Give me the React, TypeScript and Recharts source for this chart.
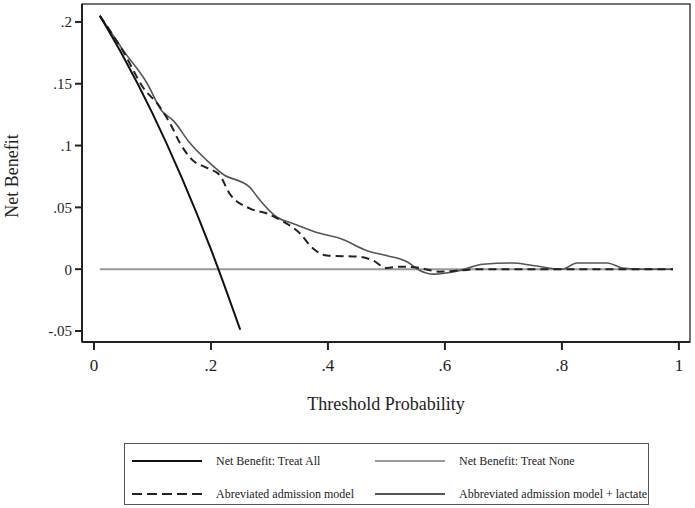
import React from 'react';
import { LineChart, XAxis, YAxis, Line, ReferenceArea } from 'recharts';

// threshold probabilities (x) and net benefit values (y)
const treatAllT = [0.01, 0.05, 0.1, 0.15, 0.2, 0.25];
const treatAllNB = [0.205, 0.172, 0.126, 0.074, 0.016, -0.049];

const treatNoneT = [0.01, 0.99];
const treatNoneNB = [0, 0];

const abbrevT = [0.01, 0.05, 0.084, 0.113, 0.13, 0.147, 0.169, 0.193, 0.215, 0.232, 0.267, 0.296, 0.318, 0.352, 0.374, 0.398, 0.455, 0.477, 0.5, 0.523, 0.557, 0.59, 0.626, 0.66, 0.75, 0.85, 0.99];
const abbrevNB = [0.205, 0.176, 0.147, 0.131, 0.118, 0.102, 0.088, 0.082, 0.076, 0.061, 0.049, 0.045, 0.04, 0.029, 0.017, 0.011, 0.01, 0.007, 0.001, 0.002, 0.001, -0.002, -0.001, 0, 0, 0, 0];

const lactateT = [0.01, 0.05, 0.09, 0.116, 0.136, 0.164, 0.193, 0.22, 0.267, 0.28, 0.313, 0.34, 0.386, 0.42, 0.467, 0.5, 0.535, 0.557, 0.58, 0.626, 0.665, 0.716, 0.75, 0.8, 0.826, 0.877, 0.904, 0.94, 0.99];
const lactateNB = [0.205, 0.177, 0.151, 0.128, 0.12, 0.102, 0.088, 0.077, 0.066, 0.058, 0.042, 0.037, 0.029, 0.025, 0.015, 0.011, 0.006, -0.001, -0.004, -0.001, 0.004, 0.005, 0.003, 0, 0.005, 0.005, 0.001, 0, 0];

const xTicks = [0, 0.2, 0.4, 0.6, 0.8, 1];
const yTicks = [-0.05, 0, 0.05, 0.1, 0.15, 0.2];

const toRows = (t: number[], nb: number[]) => t.map((x, i) => ({ t: x, nb: nb[i] }));

const fmt = (v: number) => {
  if (v === 0) return '0';
  if (v === 1) return '1';
  return String(v).replace('0.', '.');
};

const FONT = '"Liberation Serif", "Times New Roman", serif';
const X_MIN = -0.0205, X_MAX = 1.019, Y_MIN = -0.0589, Y_MAX = 0.2145;

const legendItems = [
  { name: 'Net Benefit: Treat All', color: '#111', dash: undefined, width: 2 },
  { name: 'Net Benefit: Treat None', color: '#999', dash: undefined, width: 2 },
  { name: 'Abreviated admission model', color: '#222', dash: '10 5', width: 2 },
  { name: 'Abbreviated admission model + lactate', color: '#555', dash: undefined, width: 2 },
];

const LegendBox = () => (
  <div style={{ position: 'absolute', left: 124, top: 443, width: 523, height: 60, border: '1px solid #555', fontFamily: FONT, fontSize: 12, color: '#222' }}>
    {legendItems.map((it, i) => {
      const col = i % 2, row = Math.floor(i / 2);
      return (
        <div key={it.name} style={{ position: 'absolute', left: col === 0 ? 7 : 250, top: row === 0 ? 8 : 41, display: 'flex', alignItems: 'center', height: 18, whiteSpace: 'nowrap' }}>
          <svg width={70} height={6} style={{ marginRight: 14 }}>
            <line x1={0} y1={3} x2={70} y2={3} stroke={it.color} strokeWidth={it.width} strokeDasharray={it.dash} />
          </svg>
          <span>{it.name}</span>
        </div>
      );
    })}
  </div>
);

export default function App() {
  return (
    <div style={{ position: 'absolute', left: 0, top: 0, width: 695, height: 508, background: '#fff' }}>
      <LineChart width={695} height={508} margin={{ top: 4, right: 5, left: 22, bottom: 66 }}>
        <ReferenceArea x1={X_MIN} x2={X_MAX} y1={Y_MIN} y2={Y_MAX} fill="none" stroke="#444" strokeWidth={1.5} ifOverflow="visible" />
        <XAxis
          type="number"
          dataKey="t"
          domain={[X_MIN, X_MAX]}
          allowDataOverflow
          ticks={xTicks}
          tickFormatter={fmt}
          height={100}
          tickSize={8}
          tickMargin={9}
          stroke="#222"
          strokeWidth={2}
          tick={{ fill: '#222', fontFamily: FONT, fontSize: 17 }}
          label={{ content: () => <text x={386} y={410} textAnchor="middle" fill="#222" fontFamily={FONT} fontSize={18}>Threshold Probability</text> }}
        />
        <YAxis
          type="number"
          domain={[Y_MIN, Y_MAX]}
          allowDataOverflow
          ticks={yTicks}
          tickFormatter={fmt}
          width={60}
          tickSize={7}
          tickMargin={3}
          stroke="#222"
          strokeWidth={2}
          tick={{ fill: '#222', fontFamily: FONT, fontSize: 15 }}
          label={{ content: () => <text x={18} y={176} textAnchor="middle" fill="#222" fontFamily={FONT} fontSize={18} transform="rotate(-90 18 176)">Net Benefit</text> }}
        />
        <Line data={toRows(treatNoneT, treatNoneNB)} dataKey="nb" name="Net Benefit: Treat None" type="linear" stroke="#999" strokeWidth={2} dot={false} isAnimationActive={false} />
        <Line data={toRows(lactateT, lactateNB)} dataKey="nb" name="Abbreviated admission model + lactate" type="monotone" stroke="#555" strokeWidth={1.6} dot={false} isAnimationActive={false} />
        <Line data={toRows(abbrevT, abbrevNB)} dataKey="nb" name="Abreviated admission model" type="monotone" stroke="#222" strokeWidth={2} strokeDasharray="8 5" dot={false} isAnimationActive={false} />
        <Line data={toRows(treatAllT, treatAllNB)} dataKey="nb" name="Net Benefit: Treat All" type="monotone" stroke="#111" strokeWidth={2} dot={false} isAnimationActive={false} />
      </LineChart>
      <LegendBox />
    </div>
  );
}
